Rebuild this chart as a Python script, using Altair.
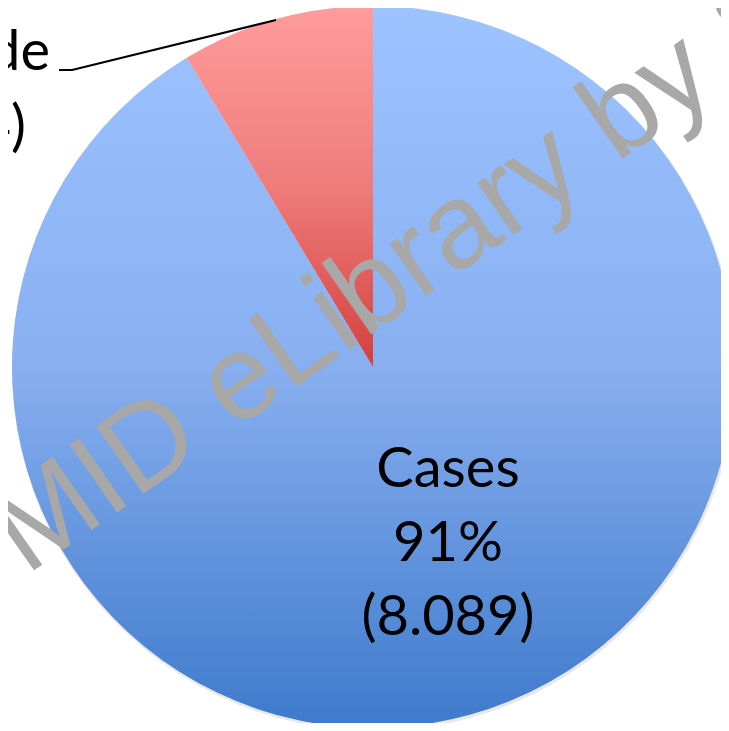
import altair as alt
import pandas as pd

# ---- data ----
categories = ["Cases", "Suicide"]
values = [8089, 764]
order = [0, 1]
watermark_text = "MID eLibrary by S"

total = sum(values)
pcts = [round(v / total * 100) for v in values]


def fmt_int(v):
    return f"{v:,}".replace(",", ".")


df = pd.DataFrame({"category": categories, "value": values, "order": order})

CX, CY, R = 365, 359, 361

blue_grad = alt.Gradient(
    gradient="linear", x1=0, y1=0, x2=0, y2=1,
    stops=[
        alt.GradientStop(color="#9DC4FF", offset=0),
        alt.GradientStop(color="#88AFF0", offset=0.5),
        alt.GradientStop(color="#3E7ACB", offset=1),
    ],
)
red_grad = alt.Gradient(
    gradient="linear", x1=0, y1=0, x2=0, y2=1,
    stops=[
        alt.GradientStop(color="#FF9C9C", offset=0),
        alt.GradientStop(color="#EE7C7B", offset=0.5),
        alt.GradientStop(color="#D3403E", offset=1),
    ],
)

base = (
    alt.Chart(df)
    .transform_window(cum="sum(value)", sort=[alt.SortField("order")], frame=[None, 0])
    .transform_calculate(start="datum.cum - datum.value")
)

theta_scale = alt.Scale(domain=[0, total])

shadow = base.mark_arc(outerRadius=R + 1, color="#8C8C8C", opacity=0.2).encode(
    theta=alt.Theta("start:Q", scale=theta_scale),
    theta2="cum:Q",
    x=alt.value(CX + 1),
    y=alt.value(CY + 2),
)

cases_arc = base.transform_filter(alt.datum.category == categories[0]).mark_arc(
    outerRadius=R, color=blue_grad
).encode(
    theta=alt.Theta("start:Q", scale=theta_scale),
    theta2="cum:Q",
    x=alt.value(CX),
    y=alt.value(CY),
)

other_arc = base.transform_filter(alt.datum.category == categories[1]).mark_arc(
    outerRadius=R, color=red_grad
).encode(
    theta=alt.Theta("start:Q", scale=theta_scale),
    theta2="cum:Q",
    x=alt.value(CX),
    y=alt.value(CY),
)

# data labels
cases_label = pd.DataFrame({
    "label": [f"{categories[0]}\n{pcts[0]}%\n({fmt_int(values[0])})"]
})
cases_text = alt.Chart(cases_label).mark_text(
    font="Lato", fontSize=56, color="black", align="center",
    baseline="alphabetic", lineBreak="\n", lineHeight=74,
).encode(text="label:N", x=alt.value(440), y=alt.value(479))

other_line1 = pd.DataFrame({"label": [categories[1]]})
other_line2 = pd.DataFrame({"label": [f"({fmt_int(values[1])})"]})
other_text1 = alt.Chart(other_line1).mark_text(
    font="Lato", fontSize=56, color="black", align="right", baseline="alphabetic",
).encode(text="label:N", x=alt.value(42), y=alt.value(62))
other_text2 = alt.Chart(other_line2).mark_text(
    font="Lato", fontSize=56, color="black", align="right", baseline="alphabetic",
).encode(text="label:N", x=alt.value(18), y=alt.value(137))

# leader line
leader1 = alt.Chart(other_line1).mark_rule(color="black", strokeWidth=2).encode(
    x=alt.value(51), x2=alt.value(64), y=alt.value(62), y2=alt.value(62)
)
leader2 = alt.Chart(other_line1).mark_rule(color="black", strokeWidth=2).encode(
    x=alt.value(64), x2=alt.value(268), y=alt.value(62), y2=alt.value(12)
)

# watermark
wm = pd.DataFrame({"label": [watermark_text]})
watermark = alt.Chart(wm).mark_text(
    font="Liberation Sans", fontSize=120, color="#A8A8A8", align="left",
    baseline="alphabetic", angle=325,
).encode(text="label:N", x=alt.value(18), y=alt.value(568))

chart = (
    alt.layer(shadow, cases_arc, other_arc, cases_text, other_text1, other_text2,
              leader1, leader2, watermark)
    .properties(width=713, height=715, padding=0,
                autosize=alt.AutoSizeParams(type="none"), background="white")
    .configure_view(stroke=None)
)

chart.save("out.html", embed_options={"renderer": "svg", "actions": False})
